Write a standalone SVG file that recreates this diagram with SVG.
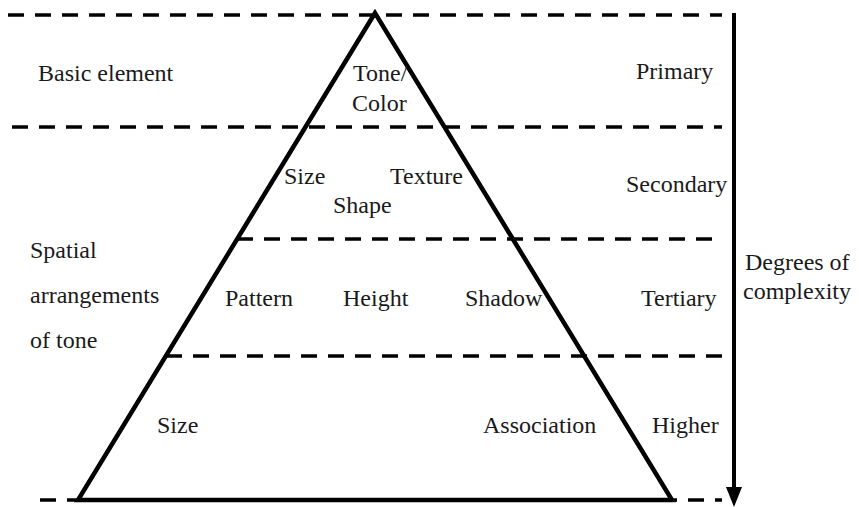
<svg xmlns="http://www.w3.org/2000/svg" width="859" height="507" viewBox="0 0 859 507">
<style>
text{font-family:'Liberation Serif','Times New Roman','DejaVu Serif',serif;font-size:24px;fill:#1a1a1a}
.d{stroke:#000;stroke-width:3.5;stroke-dasharray:16 11;fill:none}
</style>
<rect width="859" height="507" fill="#fff"/>
<g id="connectors">
<line class="d" x1="8" y1="15" x2="722" y2="15"/>
<line class="d" x1="12" y1="127" x2="722" y2="127"/>
<line class="d" x1="237" y1="239" x2="722" y2="239"/>
<line class="d" x1="166" y1="356" x2="722" y2="356"/>
<line class="d" x1="40" y1="500" x2="722" y2="500"/>
<line x1="734" y1="13" x2="734" y2="488" stroke="#000" stroke-width="4"/>
<path d="M726,487 L742,487 L734,507 Z" fill="#000"/>
</g>
<g id="pyramid">
<path d="M375,13 L78,500 L672,500 Z" fill="none" stroke="#000" stroke-width="4.5"/>
</g>
<g id="labels-left">
<text x="38" y="81">Basic element</text>
<text x="30" y="258">Spatial</text>
<text x="30" y="303">arrangements</text>
<text x="30" y="348">of tone</text>
</g>
<g id="level-primary">
<text x="353" y="81">Tone/</text>
<text x="352" y="111">Color</text>
</g>
<g id="level-secondary">
<text x="284" y="184">Size</text>
<text x="390" y="184">Texture</text>
<text x="333" y="213">Shape</text>
</g>
<g id="level-tertiary">
<text x="225" y="306">Pattern</text>
<text x="343" y="306">Height</text>
<text x="465" y="306">Shadow</text>
</g>
<g id="level-higher">
<text x="157" y="433">Size</text>
<text x="483" y="433">Association</text>
</g>
<g id="labels-right">
<text x="636" y="79">Primary</text>
<text x="626" y="192">Secondary</text>
<text x="641" y="306">Tertiary</text>
<text x="652" y="433">Higher</text>
<text x="745" y="270">Degrees of</text>
<text x="743" y="299">complexity</text>
</g>
</svg>
